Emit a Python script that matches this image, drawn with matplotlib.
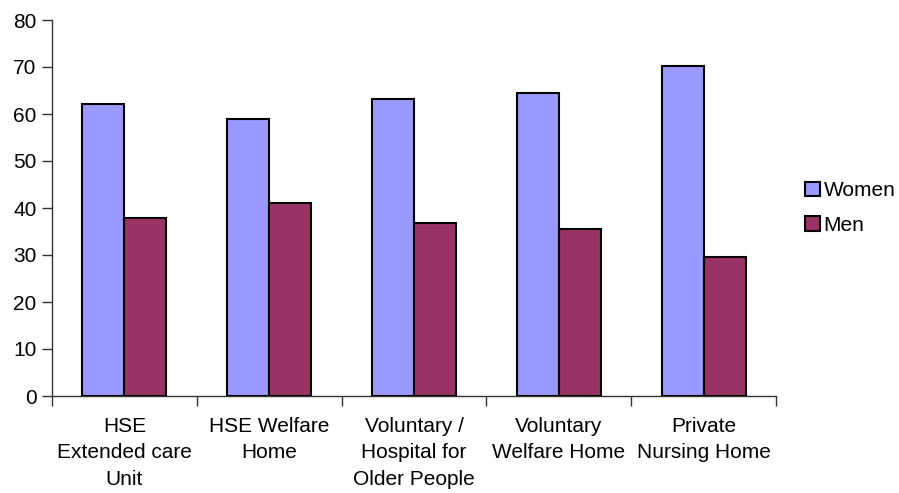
import matplotlib
matplotlib.use("Agg")
import matplotlib.pyplot as plt
import numpy as np

categories = [
    "HSE\nExtended care\nUnit",
    "HSE Welfare\nHome",
    "Voluntary /\nHospital for\nOlder People",
    "Voluntary\nWelfare Home",
    "Private\nNursing Home",
]
women = [62.2, 59.0, 63.2, 64.5, 70.3]
men = [37.8, 41.0, 36.8, 35.5, 29.6]
series_names = ["Women", "Men"]
y_ticks = [0, 10, 20, 30, 40, 50, 60, 70, 80]

plt.rcParams["font.family"] = ["Liberation Sans", "DejaVu Sans"]
FS = 15

fig = plt.figure(figsize=(8.99, 4.93), dpi=100)
ax = fig.add_axes([52 / 899, 1 - 396 / 493, (776 - 52) / 899, (396 - 20) / 493])

x = np.arange(len(categories))
w = 0.29
ax.bar(x - w / 2, women, w, color="#9999FF", edgecolor="black", linewidth=1.5,
       label=series_names[0], zorder=3)
ax.bar(x + w / 2, men, w, color="#993366", edgecolor="black", linewidth=1.5,
       label=series_names[1], zorder=3)

ax.set_xlim(-0.5, len(categories) - 0.5)
ax.set_ylim(0, 80)
ax.set_yticks(y_ticks)
ax.tick_params(axis="y", labelsize=FS, length=7, width=1, color="#333333", pad=4)

# category boundary ticks, labels centred under each group
ax.set_xticks(np.arange(len(categories) + 1) - 0.5)
ax.set_xticklabels([])
ax.tick_params(axis="x", which="major", length=7, width=1, color="#333333")
ax.set_xticks(x, minor=True)
ax.set_xticklabels(categories, minor=True, fontsize=FS, linespacing=1.5)
ax.tick_params(axis="x", which="minor", length=0, pad=15)

for s in ["top", "right"]:
    ax.spines[s].set_visible(False)
for s in ["left", "bottom"]:
    ax.spines[s].set_color("#333333")
    ax.spines[s].set_linewidth(1)

leg = ax.legend(loc="center left", bbox_to_anchor=(1.04, 0.5), frameon=False,
                fontsize=FS, handlelength=0.7, handleheight=0.7,
                handletextpad=0.2, labelspacing=0.75, borderaxespad=0,
                borderpad=0)

fig.savefig("out.png", dpi=100)
